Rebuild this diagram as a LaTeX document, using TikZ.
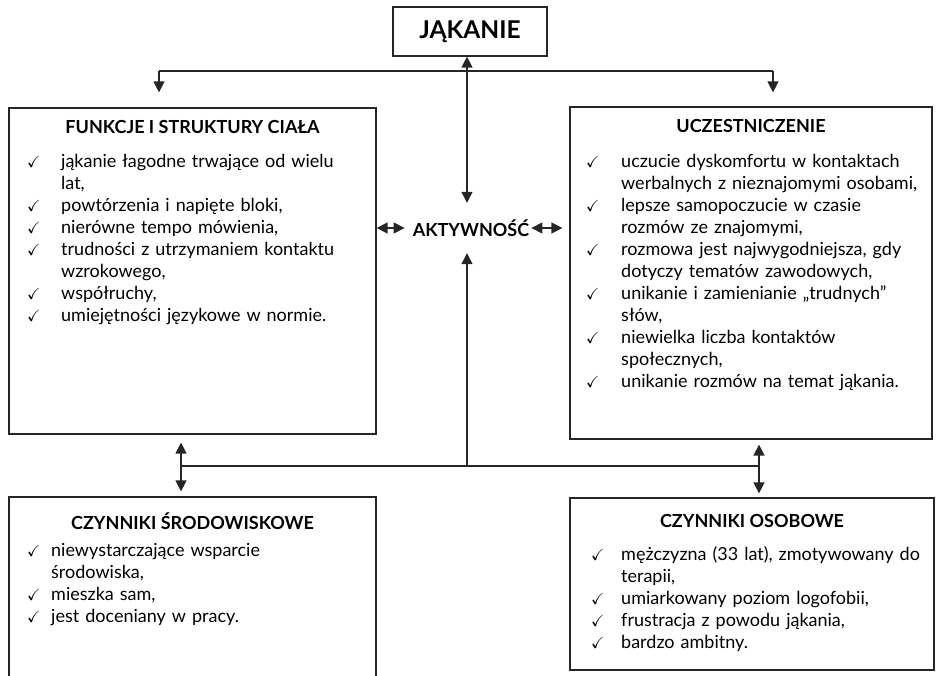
\documentclass[tikz,border=0pt]{standalone}
\usepackage{amssymb}
\usepackage{fontspec}
\setmainfont{Lato}
\usetikzlibrary{positioning,arrows.meta}

\newlength{\chkw}
\newcommand{\itm}{\par\hangindent=\chkw\hangafter=1\noindent
  \makebox[\chkw][l]{\fontsize{16}{16}\selectfont$\checkmark$}}

\tikzset{
  box/.style={draw=black!85, line width=1.2pt, inner sep=0pt},
  title/.style={inner sep=0pt, font=\fontsize{18}{20}\selectfont\bfseries},
  list/.style={align=left, inner sep=0pt, anchor=north west, text width=370pt,
    font=\fontsize{18}{22}\selectfont},
  line/.style={draw=black!85, line width=1.3pt},
  link/.style={line, -{Triangle[length=11pt,width=11pt]}},
  both/.style={line, {Triangle[length=11pt,width=11pt]}-{Triangle[length=11pt,width=11pt]}}
}

\begin{document}
\begin{tikzpicture}[x=1pt,y=-1pt]
\useasboundingbox (0,0) rectangle (936,676);
\clip (0,0) rectangle (936,676);

% boxes
\node[box, minimum width=154pt, minimum height=49pt,
  font=\fontsize{24.5}{26}\selectfont\bfseries] (jak) at (470,31.5) {JĄKANIE};
\node[box, minimum width=367pt, minimum height=326pt] (fun) at (192.5,271) {};
\node[box, minimum width=362pt, minimum height=332pt] (ucz) at (751,273) {};
\node[box, minimum width=367pt, minimum height=220pt] (srod) at (192.5,607) {};
\node[box, minimum width=364pt, minimum height=172pt] (oso) at (752,584) {};
\node[inner xsep=8pt, minimum height=50pt,
  font=\fontsize{18}{20}\selectfont\bfseries] (akt) at (471,228) {AKTYWNOŚĆ};

% titles
\node[title, below=13pt of fun.north] (funT) {FUNKCJE I STRUKTURY CIAŁA};
\node[title, below=13pt of ucz.north] (uczT) {UCZESTNICZENIE};
\node[title, below=16pt of srod.north] (srodT) {CZYNNIKI ŚRODOWISKOWE};
\node[title, below=17pt of oso.north] (osoT) {CZYNNIKI OSOBOWE};

% lists
\node[list] (funL) at (27,145) {\setlength{\chkw}{34pt}%
  \itm jąkanie łagodne trwające od wielu\newline lat,
  \itm powtórzenia i napięte bloki,
  \itm nierówne tempo mówienia,
  \itm trudności z utrzymaniem kontaktu\newline wzrokowego,
  \itm współruchy,
  \itm umiejętności językowe w normie.};
\node[list] (uczL) at (586,145) {\setlength{\chkw}{35pt}%
  \itm uczucie dyskomfortu w kontaktach\newline werbalnych z nieznajomymi osobami,
  \itm lepsze samopoczucie w czasie\newline rozmów ze znajomymi,
  \itm rozmowa jest najwygodniejsza, gdy\newline dotyczy tematów zawodowych,
  \itm unikanie i zamienianie „trudnych”\newline słów,
  \itm niewielka liczba kontaktów\newline społecznych,
  \itm unikanie rozmów na temat jąkania.};
\node[list] (srodL) at (27,534) {\setlength{\chkw}{24pt}%
  \itm niewystarczające wsparcie\newline środowiska,
  \itm mieszka sam,
  \itm jest doceniany w pracy.};
\node[list] (osoL) at (591,538) {\setlength{\chkw}{30pt}%
  \itm mężczyzna (33 lat), zmotywowany do\newline terapii,
  \itm umiarkowany poziom logofobii,
  \itm frustracja z powodu jąkania,
  \itm bardzo ambitny.};

% connectors
\coordinate (tl) at (159,71);
\coordinate (tr) at (773,71);
\coordinate (hub) at (467,466);
\coordinate (bl) at (181,466);
\coordinate (br) at (759,466);

\draw[line] (tl) -- (tr);
\draw[link, shorten >=15pt] (tl) -- (fun.north -| tl);
\draw[link, shorten >=14pt] (tr) -- (ucz.north -| tr);
\draw[both] (jak.south -| hub) -- (akt.north -| hub);
\draw[both] (fun.east |- akt) -- (akt.west);
\draw[both, shorten <=-6pt, shorten >=7pt] (akt.east) -- (ucz.west |- akt);

\draw[line] (bl) -- (br);
\draw[link] (hub) -- (akt.south -| hub);
\draw[both, shorten <=8pt, shorten >=5pt] (fun.south -| bl) -- (srod.north -| bl);
\draw[both, shorten <=5pt, shorten >=4pt] (ucz.south -| br) -- (oso.north -| br);
\end{tikzpicture}
\end{document}
